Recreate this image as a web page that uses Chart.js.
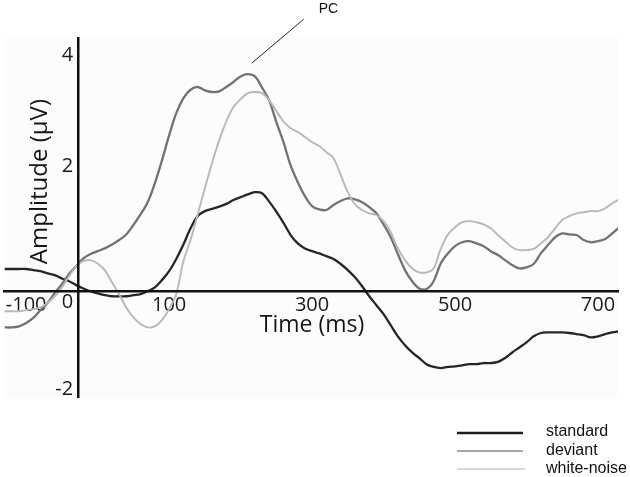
<!DOCTYPE html>
<html>
<head>
<meta charset="utf-8">
<script src="https://cdn.jsdelivr.net/npm/chart.js@4.4.1/dist/chart.umd.min.js"></script>
<style>
  html, body { margin: 0; padding: 0; background: #ffffff; }
  #wrap { width: 630px; height: 477px; }
</style>
</head>
<body>
<div id="wrap"><canvas id="c" width="630" height="477"></canvas></div>
<script>
// ---- data ----
const timesMs = [-130,-120,-110,-100,-90,-80,-70,-60,-50,-40,-30,-20,-10,
  0,10,20,30,40,50,60,70,80,90,
  100,110,120,130,140,150,160,170,180,190,
  200,210,220,230,240,250,260,270,280,290,
  300,310,320,330,340,350,360,370,380,390,
  400,410,420,430,440,450,460,470,480,490,
  500,510,520,530,540,550,560,570,580,590,
  600,610,620,630,640,650,660,670,680,690,
  700,710,720,730];

const standard = [0.16,0.16,0.16,0.16,0.14,0.12,0.08,0.05,-0.01,-0.06,-0.13,-0.19,-0.24,
  -0.28,-0.31,-0.33,-0.33,-0.33,-0.31,-0.29,-0.24,-0.17,-0.04,
  0.12,0.34,0.60,0.89,1.11,1.20,1.24,1.28,1.33,1.40,
  1.45,1.50,1.54,1.52,1.37,1.19,0.99,0.77,0.62,0.53,
  0.48,0.44,0.39,0.34,0.25,0.14,0.01,-0.15,-0.33,-0.49,
  -0.65,-0.85,-1.05,-1.21,-1.34,-1.44,-1.55,-1.60,-1.62,-1.60,
  -1.59,-1.57,-1.55,-1.55,-1.53,-1.53,-1.51,-1.44,-1.34,-1.25,
  -1.16,-1.05,-0.99,-0.98,-0.98,-0.98,-0.99,-1.01,-1.03,-1.07,
  -1.05,-1.01,-0.98,-0.96];

const deviant = [-0.89,-0.89,-0.87,-0.81,-0.72,-0.58,-0.45,-0.27,-0.11,0.07,0.21,0.35,0.43,
  0.48,0.53,0.60,0.68,0.78,0.95,1.14,1.36,1.70,2.11,
  2.56,2.96,3.23,3.38,3.43,3.37,3.34,3.35,3.43,3.52,
  3.62,3.66,3.62,3.42,3.19,2.80,2.44,2.02,1.72,1.47,
  1.29,1.23,1.22,1.31,1.38,1.43,1.41,1.36,1.27,1.16,
  0.96,0.73,0.43,0.14,-0.06,-0.19,-0.20,-0.06,0.26,0.44,
  0.57,0.64,0.66,0.62,0.57,0.48,0.41,0.32,0.23,0.17,
  0.19,0.25,0.44,0.59,0.73,0.80,0.78,0.77,0.68,0.64,
  0.66,0.70,0.80,0.91];

const whiteNoise = [-0.60,-0.60,-0.60,-0.58,-0.56,-0.53,-0.45,-0.33,-0.17,0.03,0.21,0.30,0.32,
  0.26,0.14,-0.08,-0.29,-0.53,-0.71,-0.83,-0.89,-0.87,-0.76,
  -0.56,-0.29,0.30,0.68,1.14,1.61,2.06,2.47,2.81,3.07,
  3.21,3.32,3.34,3.32,3.19,3.00,2.81,2.69,2.62,2.53,
  2.44,2.37,2.26,2.15,1.85,1.54,1.32,1.22,1.16,1.13,
  1.02,0.82,0.53,0.32,0.17,0.10,0.10,0.17,0.52,0.78,
  0.91,1.00,1.02,1.00,0.96,0.89,0.77,0.66,0.55,0.50,
  0.50,0.52,0.62,0.73,0.89,1.04,1.11,1.16,1.18,1.20,
  1.20,1.25,1.34,1.41];

const xTickValues = [-100, 100, 300, 500, 700];
const yTickValues = [4, 2, 0, -2];
const seriesNames = ['standard', 'deviant', 'white-noise'];
const xTitle = 'Time (ms)';
const yTitle = 'Amplitude (\u00b5V)';
const peakLabel = 'PC';

// ---- styling ----
const seriesColors = ['#262626', '#727272', '#b8b8b8'];
const seriesWidths = [2.3, 2.3, 1.9];
const legendWidths = [2.5, 1.4, 1.2];
const legendColors = ['#1e1e1e', '#8a8a8a', '#b0b0b0'];
const TICK_FONT = { family: "'Open Sans', 'DejaVu Sans', sans-serif", size: 20 };

function toPoints(vals) { return timesMs.map((t, i) => ({ x: t, y: vals[i] })); }

const seriesValues = [standard, deviant, whiteNoise];

const decor = {
  id: 'decor',
  beforeDraw(chart) {
    const { ctx, chartArea: a } = chart;
    ctx.save();
    ctx.fillStyle = '#fcfcfc';
    ctx.fillRect(a.left, a.top, a.right - a.left, a.bottom - a.top);
    ctx.restore();
  },
  afterDraw(chart) {
    const { ctx, scales: { x, y } } = chart;
    const axisY = y.getPixelForValue(chart.options.scales.x.position.y);
    const axisX = x.getPixelForValue(chart.options.scales.y.position.x);
    ctx.save();
    ctx.fillStyle = '#151515';
    // x title
    ctx.font = "23px 'Open Sans', sans-serif";
    ctx.textAlign = 'center';
    ctx.textBaseline = 'middle';
    ctx.fillText(xTitle, x.getPixelForValue(300), axisY + 34);
    // y title (rotated)
    ctx.save();
    ctx.translate(axisX - 38, y.getPixelForValue(1.73));
    ctx.rotate(-Math.PI / 2);
    ctx.font = "24px 'Open Sans', sans-serif";
    ctx.fillText(yTitle, 0, 0);
    ctx.restore();

    // PC annotation pointing at deviant maximum
    let iMax = 0;
    deviant.forEach((v, i) => { if (v > deviant[iMax]) iMax = i; });
    const px = x.getPixelForValue(timesMs[iMax]);
    const py = y.getPixelForValue(deviant[iMax]);
    ctx.strokeStyle = '#222';
    ctx.lineWidth = 1;
    ctx.beginPath();
    ctx.moveTo(px + 4, py - 11);
    ctx.lineTo(px + 56, py - 55);
    ctx.stroke();
    ctx.font = "14px 'Liberation Sans', Arial, sans-serif";
    ctx.textAlign = 'left';
    ctx.textBaseline = 'alphabetic';
    ctx.fillStyle = '#111';
    ctx.fillText(peakLabel, px + 71, py - 61);

    // legend (bottom right)
    const lx0 = 457, lx1 = 523, tx = 546;
    const rows = [433, 451, 469];
    ctx.font = "16px 'Liberation Sans', Arial, sans-serif";
    seriesNames.forEach((name, i) => {
      ctx.strokeStyle = legendColors[i];
      ctx.lineWidth = legendWidths[i];
      ctx.beginPath();
      ctx.moveTo(lx0, rows[i]);
      ctx.lineTo(lx1 + (i === 2 ? 2 : 0), rows[i]);
      ctx.stroke();
      ctx.fillStyle = '#111';
      ctx.fillText(name, tx, rows[i] + 4 - (i === 0 ? 1 : 0));
    });
    ctx.restore();
  }
};

new Chart(document.getElementById('c'), {
  type: 'line',
  data: {
    datasets: seriesNames.map((name, i) => ({
      label: name,
      data: toPoints(seriesValues[i]),
      borderColor: seriesColors[i],
      borderWidth: seriesWidths[i],
      pointRadius: 0,
      fill: false,
      tension: 0.35
    })).reverse()
  },
  options: {
    responsive: false,
    animation: false,
    devicePixelRatio: 1,
    layout: { padding: { left: 4, right: 12, top: 38, bottom: 80 } },
    plugins: { legend: { display: false }, tooltip: { enabled: false } },
    scales: {
      x: {
        type: 'linear',
        min: -131,
        max: 728,
        position: { y: -0.24 },
        grid: { display: false, drawTicks: false },
        border: { display: true, color: '#111', width: 2.5, z: 1 },
        afterBuildTicks: s => { s.ticks = xTickValues.map(v => ({ value: v })); },
        ticks: { font: TICK_FONT, color: '#1a1a1a', padding: 2, maxRotation: 0, autoSkip: false,
                 callback: v => String(v) }
      },
      y: {
        type: 'linear',
        min: -2.14,
        max: 4.31,
        position: { x: -27 },
        grid: { display: false, drawTicks: false },
        border: { display: true, color: '#111', width: 2.5, z: 1 },
        afterBuildTicks: s => { s.ticks = yTickValues.map(v => ({ value: v })); },
        ticks: { font: TICK_FONT, color: '#1a1a1a', padding: 5, autoSkip: false,
                 callback: v => (v === 0 ? ['', '', '0 '] : String(v) + ' ') }
      }
    }
  },
  plugins: [decor]
});
</script>
</body>
</html>
